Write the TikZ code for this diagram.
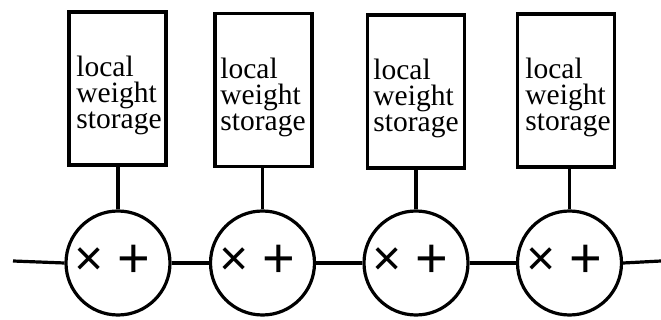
\documentclass[tikz,border=0pt]{standalone}
\usepackage{fontspec}
\setmainfont{Liberation Serif}
\newfontfamily\opfont{Liberation Sans}
\begin{document}
\begin{tikzpicture}[x=1pt,y=-1pt,
  store/.style={draw, line width=3.2pt, minimum width=97pt, minimum height=153pt, inner sep=0pt},
  storetext/.style={align=left, font=\fontsize{29.5}{26}\selectfont, inner sep=0pt},
  pe/.style={draw, circle, line width=3.2pt, minimum size=104pt, inner sep=0pt},
  optext/.style={font=\opfont\fontsize{56}{56}\selectfont, inner sep=0pt},
  wire/.style={line width=3.2pt}]
\useasboundingbox (0,0) rectangle (661,320);

% weight storage boxes
\node[store] (b1) at (117.5,88.5) {};
\node[store] (b2) at (263.5,90) {};
\node[store] (b3) at (416,91.5) {};
\node[store] (b4) at (566,90.5) {};
\foreach \i/\x/\y in {1/119/95, 2/263/97, 3/416/98, 4/568/97}
  \node[storetext] (t\i) at (\x,\y) {local\\weight\\storage};

% multiply-accumulate cells
\node[pe] (c1) at (118,263) {};
\node[pe] (c2) at (262.5,263) {};
\node[pe] (c3) at (416,263) {};
\node[pe] (c4) at (569.5,263) {};
\foreach \i in {1,...,4}
  \node[optext] (o\i) at ([xshift=-5.5pt,yshift=2pt]c\i.center)
    {\raisebox{2pt}{\fontsize{50}{50}\selectfont ×}\hspace{-2pt} +};

% chain and weight links
\coordinate (lin) at (13,261);
\coordinate (rout) at (661,261);
\draw[wire] (lin) -- (c1.west);
\draw[wire] (c1.east) -- (c2.west);
\draw[wire] (c2.east) -- (c3.west);
\draw[wire] (c3.east) -- (c4.west);
\draw[wire] (c4.east) -- (rout);
\foreach \i in {1,...,4}
  \draw[wire] (b\i.south -| c\i.north) -- (c\i.north);
\end{tikzpicture}
\end{document}
